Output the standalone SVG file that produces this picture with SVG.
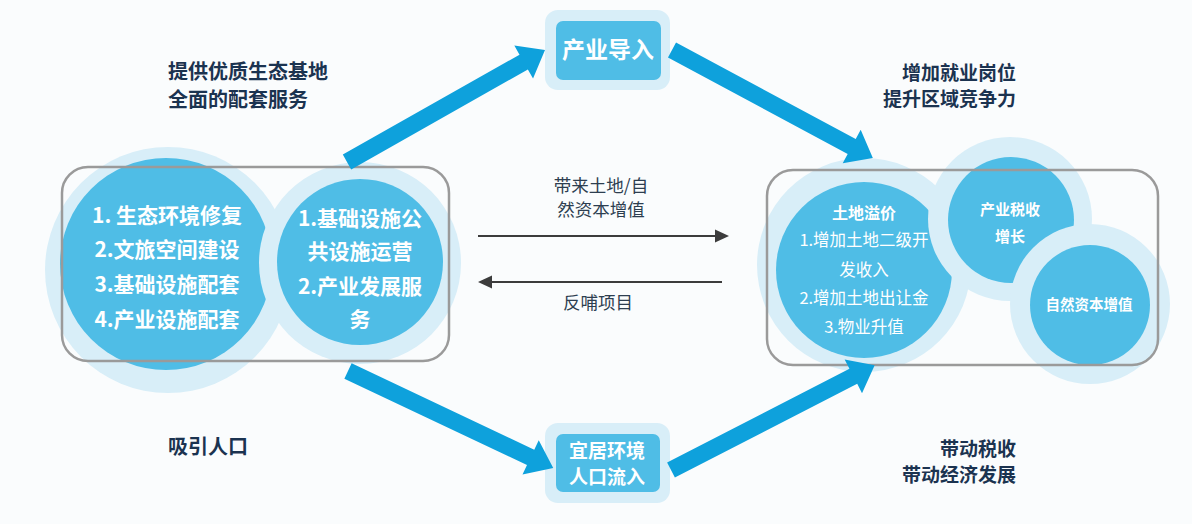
<svg xmlns="http://www.w3.org/2000/svg" width="1192" height="524" viewBox="0 0 1192 524">
<defs>
<style>
.bg{fill:#fafcfd}
.lc{fill:#d8eef8}
.dc{fill:#4fbde6}
.frame{fill:none;stroke:#9a9a9a;stroke-width:2.5}
.big{fill:#0ea1dc}
.thin{stroke:#3c3c3c;stroke-width:2;fill:none}
.head{fill:#3c3c3c}
text{font-family:"Noto Sans CJK SC","Liberation Sans",sans-serif}
.w{fill:#ffffff;font-weight:700;text-anchor:middle}
.wn{fill:#ffffff;font-weight:400;text-anchor:middle}
.hd{fill:#1b3350;font-weight:700;font-size:20px}
.hr{fill:#1b3350;font-weight:700;font-size:19px;text-anchor:end}
.mid{fill:#2d3e50;font-size:17.5px;text-anchor:middle}
</style>
</defs>
<rect class="bg" x="0" y="0" width="1192" height="524"/>

<g id="left-group">
<circle class="lc" cx="168" cy="270" r="123"/>
<circle class="dc" cx="166" cy="264" r="106"/>
<circle class="lc" cx="360" cy="263" r="101"/>
<circle class="dc" cx="360" cy="262" r="83"/>
<rect class="frame" x="62" y="167" width="387" height="194" rx="26"/>
<text class="w" font-size="21"><tspan x="167" y="223">1. 生态环境修复</tspan><tspan x="167" y="257">2.文旅空间建设</tspan><tspan x="167" y="292">3.基础设施配套</tspan><tspan x="167" y="327">4.产业设施配套</tspan></text>
<text class="w" font-size="21"><tspan x="360" y="226">1.基础设施公</tspan><tspan x="360" y="259">共设施运营</tspan><tspan x="360" y="294">2.产业发展服</tspan><tspan x="360" y="327">务</tspan></text>
</g>

<g id="right-group">
<circle class="lc" cx="864" cy="265" r="107"/>
<circle class="dc" cx="864" cy="270" r="88"/>
<circle class="lc" cx="1010" cy="219" r="82"/>
<circle class="dc" cx="1011" cy="220" r="63"/>
<circle class="lc" cx="1090" cy="304" r="80"/>
<circle class="dc" cx="1090" cy="305" r="60"/>
<rect class="frame" x="767" y="170" width="391" height="195" rx="26"/>
<text class="w" font-size="16" x="864" y="219">土地溢价</text>
<text class="wn" font-size="16.5"><tspan x="864" y="246">1.增加土地二级开</tspan><tspan x="864" y="276">发收入</tspan><tspan x="864" y="304">2.增加土地出让金</tspan><tspan x="864" y="333">3.物业升值</tspan></text>
<text class="w" font-size="15"><tspan x="1010" y="215">产业税收</tspan><tspan x="1010" y="242">增长</tspan></text>
<text class="w" font-size="14.5" x="1089" y="310">自然资本增值</text>
</g>

<g id="node-top">
<rect class="lc" x="545" y="10" width="125" height="80" rx="13"/>
<rect class="dc" x="556" y="21" width="105" height="59" rx="7"/>
<text class="w" font-size="23" x="608" y="58">产业导入</text>
</g>

<g id="node-bottom">
<rect class="lc" x="545" y="423" width="125" height="80" rx="13"/>
<rect class="dc" x="556" y="434" width="104" height="58" rx="7"/>
<text class="w" font-size="19"><tspan x="607" y="458">宜居环境</tspan><tspan x="607" y="484">人口流入</tspan></text>
</g>

<g id="labels">
<text class="hd" x="168" y="79">提供优质生态基地</text>
<text class="hd" x="168" y="107">全面的配套服务</text>
<text class="hd" x="168" y="454">吸引人口</text>
<text class="hr" x="1016" y="80">增加就业岗位</text>
<text class="hr" x="1016" y="106">提升区域竞争力</text>
<text class="hr" x="1016" y="456">带动税收</text>
<text class="hr" x="1016" y="482">带动经济发展</text>
</g>

<g id="connectors">
<polygon class="big" transform="translate(347,162) rotate(-29.5)" points="0,-8.5 203,-8.5 203,-19 227.5,0 203,19 203,8.5 0,8.5"/>
<polygon class="big" transform="translate(672,50) rotate(28.25)" points="0,-8.5 204,-8.5 204,-19 228,0 204,19 204,8.5 0,8.5"/>
<polygon class="big" transform="translate(348,371) rotate(25.3)" points="0,-8.5 202,-8.5 202,-19 227,0 202,19 202,8.5 0,8.5"/>
<polygon class="big" transform="translate(671,470) rotate(-27.2)" points="0,-8.5 205,-8.5 205,-19 229,0 205,19 205,8.5 0,8.5"/>
<line class="thin" x1="478" y1="236" x2="716" y2="236"/>
<polygon class="head" points="729,236 715,229.5 715,242.5"/>
<line class="thin" x1="722" y1="282" x2="490" y2="282"/>
<polygon class="head" points="478,282 492,275.5 492,288.5"/>
<text class="mid"><tspan x="601" y="192">带来土地/自</tspan><tspan x="601" y="216">然资本增值</tspan></text>
<text class="mid" x="598" y="309">反哺项目</text>
</g>
</svg>
